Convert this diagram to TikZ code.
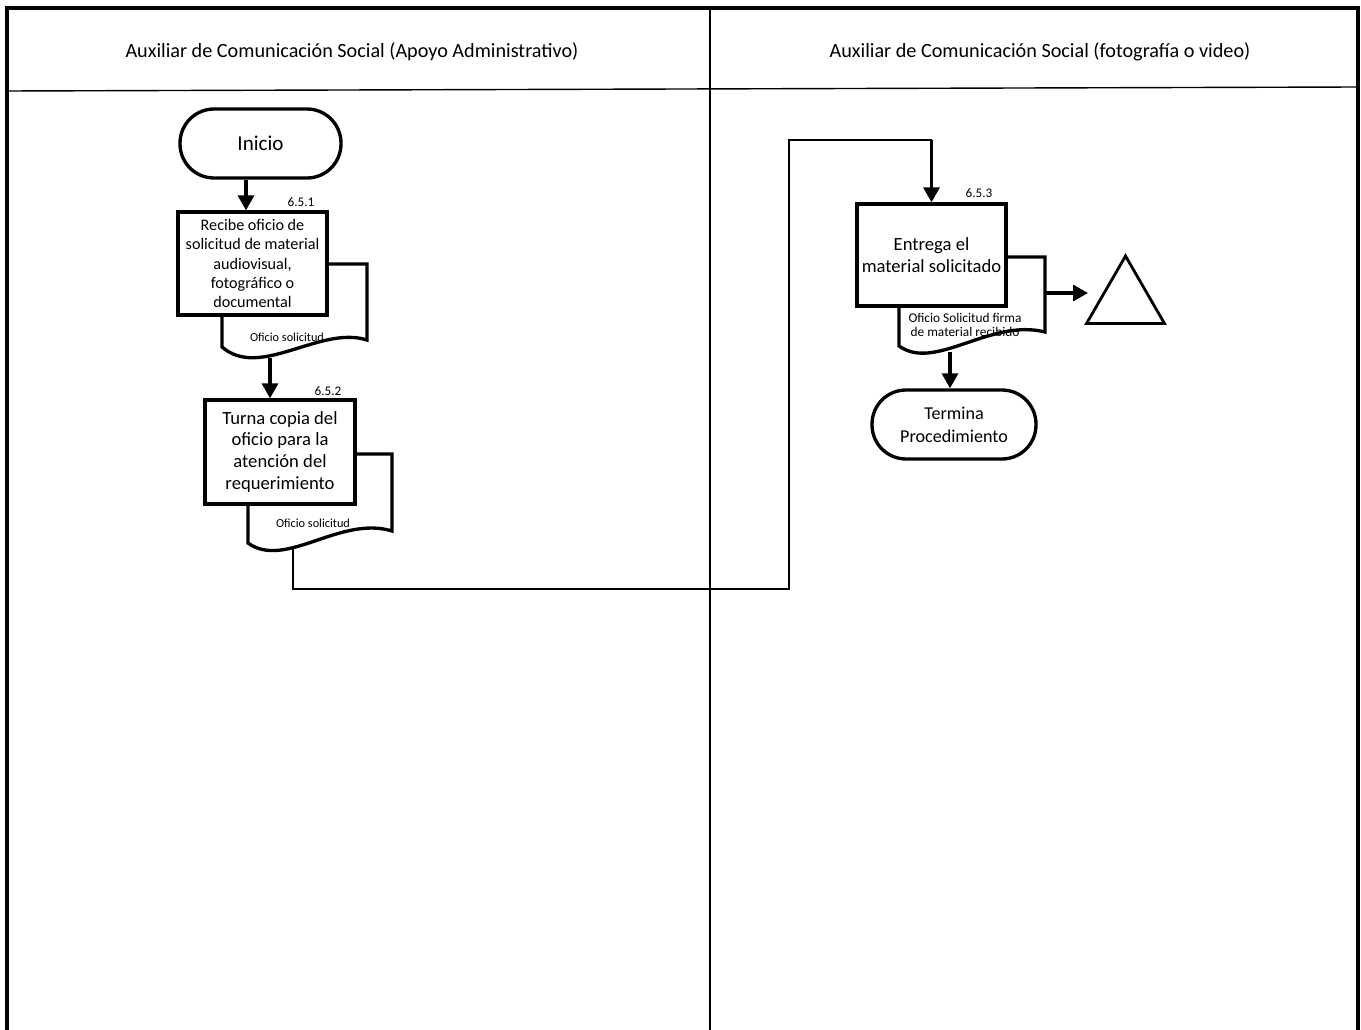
\documentclass[tikz,border=0pt]{standalone}
\usepackage{fontspec}
\setmainfont{Carlito}
\usetikzlibrary{positioning,arrows.meta,shapes.geometric}

\begin{document}
\begin{tikzpicture}[x=0.02cm, y=-0.02cm,
    frame/.style={line width=1.8pt},
    lane/.style={line width=0.8pt},
    head/.style={font=\fontsize{11.5}{14}\selectfont, inner sep=0pt},
    proc/.style={rectangle, draw, line width=1.9pt, fill=white, align=center, inner sep=1pt},
    term/.style={rectangle, rounded corners=0.68cm, draw, line width=1.9pt, fill=white, align=center},
    doc/.style={draw, line width=1.9pt, fill=white},
    flow/.style={-{Triangle[length=0.3cm,width=0.32cm]}, line width=1.9pt},
    link/.style={line width=0.8pt},
    num/.style={font=\fontsize{7.5}{9}\selectfont, inner sep=0pt},
    doclabel/.style={font=\fontsize{7}{8.5}\selectfont, align=center, inner sep=0pt}]
  \useasboundingbox (0,0) rectangle (1361,1030);

  % lanes
  \draw[frame] (7,1030) -- (7,8) -- (1358,8) -- (1358,1030);
  \draw[lane] (710,8) -- (710,1030);
  \draw[lane] (7,91) -- (1358,87);
  \node[head] (h1) at (352,52) {Auxiliar de Comunicación Social (Apoyo Administrativo)};
  \node[head] (h2) at (1040,52) {Auxiliar de Comunicación Social (fotografía o video)};

  % apoyo administrativo
  \node[term, minimum width=3.22cm, minimum height=1.38cm,
        font=\fontsize{12}{14}\selectfont] (ini) at (260.5,143.5) {Inicio};

  \draw[doc] (222,264) -- (367,264) -- (367,340)
    .. controls (320,325) and (260,380) .. (222,347) -- cycle;
  \coordinate (d1) at (270,358);
  \node[proc, minimum width=2.98cm, minimum height=2.06cm,
        font=\fontsize{9.2}{10.9}\selectfont] (p1) at (252.5,263.5)
        {Recibe oficio de\\solicitud de material\\audiovisual,\\fotográfico o\\documental};
  \node[num] (n1) at (301,202) {6.5.1};
  \node[doclabel] (o1) at (287,337) {Oficio solicitud};
  \draw[flow] ([xshift=-0.29cm]ini.south) -- ([xshift=-0.29cm]ini.south |- p1.north);

  \draw[doc] (248,454) -- (392,454) -- (392,531)
    .. controls (340,515) and (285,570) .. (248,543) -- cycle;
  \coordinate (d2) at (293,549);
  \node[proc, minimum width=3cm, minimum height=2.08cm,
        font=\fontsize{10.6}{12.5}\selectfont] (p2) at (280,452)
        {Turna copia del\\oficio para la\\atención del\\requerimiento};
  \node[num] (n2) at (328,391) {6.5.2};
  \node[doclabel] (o2) at (313,523) {Oficio solicitud};
  \draw[flow] (d1) -- (d1 |- p2.north);

  % fotografia o video
  \draw[doc] (899,257) -- (1045,257) -- (1045,332)
    .. controls (990,318) and (935,372) .. (899,346) -- cycle;
  \coordinate (d3) at (950,352);
  \coordinate (d3r) at (1045,293);
  \node[proc, minimum width=2.98cm, minimum height=2.04cm,
        font=\fontsize{10.6}{12.6}\selectfont] (p3) at (931.5,255)
        {Entrega el\\material solicitado};
  \node[num] (n3) at (979,193) {6.5.3};
  \node[doclabel, font=\fontsize{7.6}{8}\selectfont] (o3) at (965,325)
        {Oficio Solicitud firma\\de material recibido};

  \node[regular polygon, regular polygon sides=3, draw, line width=1.6pt,
        minimum size=1.8cm, inner sep=0pt] (tri) at (1125.5,301) {};
  \coordinate (t3) at (1088,293);
  \draw[flow] (d3r) -- (t3);

  \node[term, minimum width=3.28cm, minimum height=1.38cm,
        font=\fontsize{10.3}{13}\selectfont] (fin) at (954,424.5) {Termina\\Procedimiento};
  \draw[flow] (d3) -- (d3 |- fin.north);

  % paso entre carriles
  \coordinate (bend) at (789,589);
  \coordinate (top) at (789,140);
  \draw[link] (d2) |- (bend) -- (top) -- (top -| p3.north);
  \draw[flow] (top -| p3.north) -- (p3.north);
\end{tikzpicture}
\end{document}
